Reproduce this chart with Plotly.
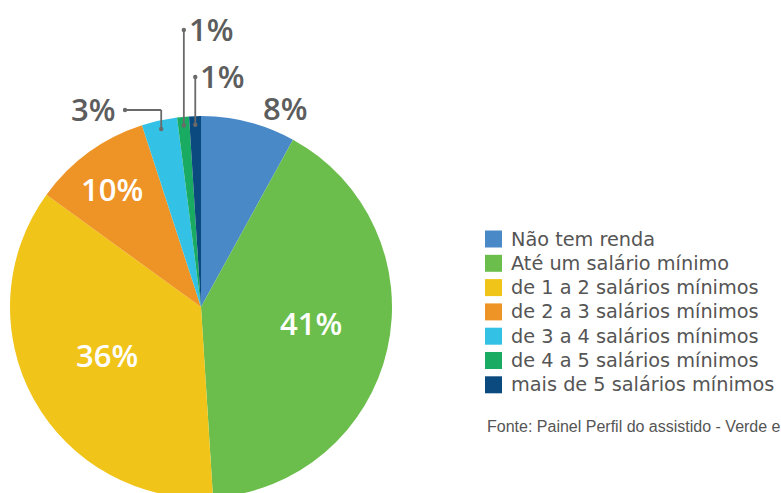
import math
import plotly.graph_objects as go

categories = ["Não tem renda", "Até um salário mínimo", "de 1 a 2 salários mínimos",
              "de 2 a 3 salários mínimos", "de 3 a 4 salários mínimos",
              "de 4 a 5 salários mínimos", "mais de 5 salários mínimos"]
values = [8, 41, 36, 10, 3, 1, 1]
labels = ["8%", "41%", "36%", "10%", "3%", "1%", "1%"]
colors = ["#4A89C8", "#6BBE4B", "#F0C419", "#EE9426", "#33C2E6", "#1AAB62", "#0B4A7E"]
source = "Fonte: Painel Perfil do assistido - Verde e"

W, H = 781, 500
CX, CY, R = 201, 307, 191  # pie geometry in px (layout)

def px(x):
    return x / W

def py(y):
    return 1 - y / H

fig = go.Figure(go.Pie(
    labels=categories, values=values, sort=False, direction="clockwise", rotation=0,
    marker=dict(colors=colors, line=dict(width=0)), textinfo="none", hoverinfo="label+percent",
    domain=dict(x=[px(CX - R), px(CX + R)], y=[py(CY + R), py(CY - R)]),
    showlegend=False,
))

total = sum(values)
mids = []
acc = 0
for v in values:
    mids.append((acc + v / 2) / total * 2 * math.pi)
    acc += v

def polar(i, frac):
    a = mids[i]
    return CX + frac * R * math.sin(a), CY - frac * R * math.cos(a)

annotations = []
shapes = []
FONT = "Open Sans, sans-serif"
LEGFONT = "DejaVu Sans, sans-serif"
GREY = "#5d5d5d"
LINE = "#6a6a6a"

def label(x, y, text, color, xanchor="center"):
    annotations.append(dict(x=px(x), y=py(y), xref="paper", yref="paper", text=text,
                            xanchor=xanchor, yanchor="middle", showarrow=False,
                            font=dict(family=FONT, size=31, color=color, weight=600)))

# inside labels (white) – text positions within slices
label(311, 323, labels[1], "white")
label(107, 355, labels[2], "white")
label(112, 189, labels[3], "white")
# outside label for 8%
label(285, 108, labels[0], GREY)

def dot(x, y):
    shapes.append(dict(type="circle", xref="paper", yref="paper",
                       x0=px(x - 2.2), x1=px(x + 2.2), y0=py(y + 2.2), y1=py(y - 2.2),
                       fillcolor=LINE, line=dict(width=0)))

def seg(x0, y0, x1, y1):
    shapes.append(dict(type="line", xref="paper", yref="paper", x0=px(x0), y0=py(y0),
                       x1=px(x1), y1=py(y1), line=dict(color=LINE, width=1.8)))

# 3%
x3, y3 = polar(4, 0.955)
seg(x3, y3, x3, 110)
seg(x3, 110, 125, 110)
dot(x3, y3)
dot(125, 110)
label(118, 109, labels[4], GREY, xanchor="right")
# 1% (4 a 5)
x5, y5 = polar(5, 0.955)
seg(x5, y5, x5, 30)
dot(x5, y5)
dot(x5, 30)
label(x5 + 3, 29, labels[5], GREY, xanchor="left")
# 1% (mais de 5)
x6, y6 = polar(6, 0.955)
seg(x6, y6, x6, 77)
dot(x6, y6)
dot(x6, 77)
label(x6 + 3, 76, labels[6], GREY, xanchor="left")

# legend (drawn manually so its spacing matches)
LX, LY0, LSTEP, BOX = 485, 239, 24.3, 17
for i, (cat, col) in enumerate(zip(categories, colors)):
    yc = LY0 + i * LSTEP
    shapes.append(dict(type="rect", xref="paper", yref="paper",
                       x0=px(LX), x1=px(LX + BOX), y0=py(yc + BOX / 2), y1=py(yc - BOX / 2),
                       fillcolor=col, line=dict(width=0)))
    annotations.append(dict(x=px(LX + 24), y=py(yc), xref="paper", yref="paper", text=cat,
                            xanchor="left", yanchor="middle", showarrow=False,
                            font=dict(family=LEGFONT, size=19.3, color="#555555")))

annotations.append(dict(x=px(485), y=py(426), xref="paper", yref="paper", text=source,
                        xanchor="left", yanchor="middle", showarrow=False,
                        font=dict(family="Liberation Sans, Arial, sans-serif", size=16, color="#555555")))

fig.update_layout(
    width=W, height=H, margin=dict(l=0, r=0, t=0, b=0),
    paper_bgcolor="white", plot_bgcolor="white",
    showlegend=False,
    annotations=annotations, shapes=shapes,
)

fig.write_html("out.html", config={"displayModeBar": False},
               post_script="document.body.style.margin='0';document.body.style.overflow='hidden';")
